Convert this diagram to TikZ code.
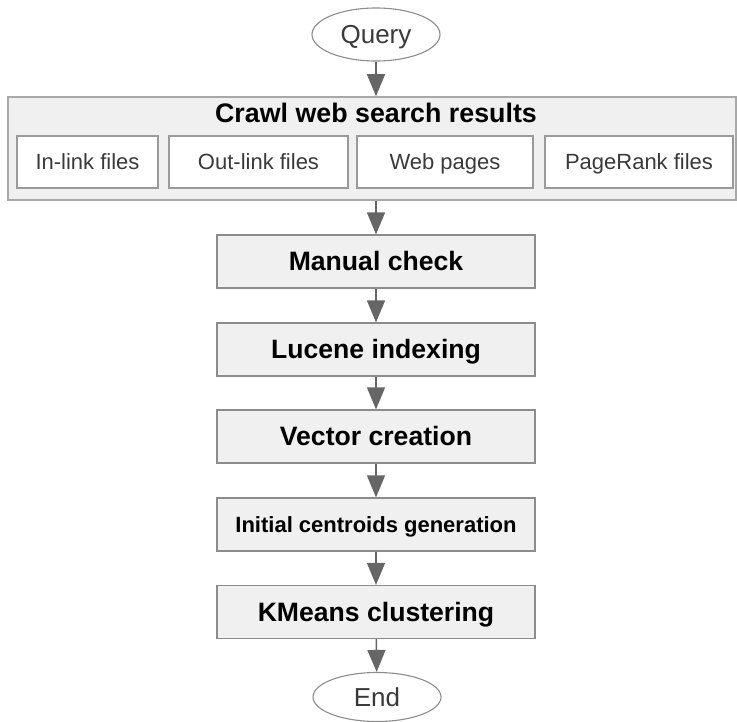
\documentclass[tikz,border=0pt]{standalone}
\usepackage{fontspec}
\setmainfont{Liberation Sans}
\usetikzlibrary{shapes.geometric,arrows.meta}
\definecolor{boxfill}{HTML}{F0F0F0}
\definecolor{outerline}{HTML}{A8A8A8}
\definecolor{stepline}{HTML}{8C8C8C}
\definecolor{fileline}{HTML}{9A9A9A}
\definecolor{arrowgray}{HTML}{666666}
\definecolor{textgray}{HTML}{3A3A3A}
\tikzset{
  stepbox/.style={draw=stepline, fill=boxfill, line width=1.2pt, minimum width=318pt,
    minimum height=53pt, inner sep=0pt, text=black,
    font=\fontsize{26.6}{30}\selectfont\bfseries, text height=18.8pt, text depth=0pt},
  smallstep/.style={stepbox, font=\fontsize{22}{26}\selectfont\bfseries, text height=15.8pt},
  filebox/.style={draw=fileline, fill=white, line width=1.1pt, minimum height=52pt,
    inner sep=0pt, text=textgray, font=\fontsize{22}{26}\selectfont,
    text height=15.8pt, text depth=0pt},
  outerbox/.style={draw=outerline, fill=boxfill, line width=1.5pt, minimum width=728pt,
    minimum height=103pt, inner sep=0pt},
  term/.style={ellipse, draw=stepline, fill=white, line width=1.1pt, minimum width=128pt,
    minimum height=53pt, inner sep=0pt, text=textgray, font=\fontsize{26}{30}\selectfont,
    text height=18.4pt, text depth=0pt},
  flow/.style={draw=arrowgray, line width=1.5pt,
    -{Triangle[length=22pt,width=18pt,fill=arrowgray]}},
  titletext/.style={inner sep=0pt, font=\fontsize{26.8}{30}\selectfont\bfseries, text=black,
    text height=18.5pt, text depth=0pt}
}
\begin{document}
\begin{tikzpicture}[x=1pt,y=1pt]
\useasboundingbox (0,0) rectangle (737,-722);
\node[term] (query) at (376,-34.5) {Query};
\node[outerbox] (crawl) at (372,-148.5) {};
\node[titletext] (title) at (376,-113.5) {Crawl web search results};
\node[filebox, minimum width=141pt] (inlink) at (87.5,-162) {In-link files};
\node[filebox, minimum width=179pt] (outlink) at (258.5,-162) {Out-link files};
\node[filebox, minimum width=176pt] (web) at (445,-162) {Web pages};
\node[filebox, minimum width=188pt] (pagerank) at (639,-162) {PageRank files};
\node[stepbox] (manual) at (376,-261.5) {Manual check};
\node[stepbox] (lucene) at (376,-349.5) {Lucene indexing};
\node[stepbox] (vector) at (376,-436.5) {Vector creation};
\node[smallstep] (initial) at (376,-524.5) {Initial centroids generation};
\node[stepbox] (kmeans) at (376,-612) {KMeans clustering};
\node[term, minimum height=49pt] (end) at (377,-697) {End};
\draw[flow] (query) -- (query |- crawl.north);
\draw[flow] (crawl.south -| manual) -- (manual);
\draw[flow] (manual) -- (lucene);
\draw[flow] (lucene) -- (vector);
\draw[flow] (vector) -- (initial);
\draw[flow] (initial) -- (kmeans);
\draw[flow] (kmeans) -- (end);
\end{tikzpicture}
\end{document}
